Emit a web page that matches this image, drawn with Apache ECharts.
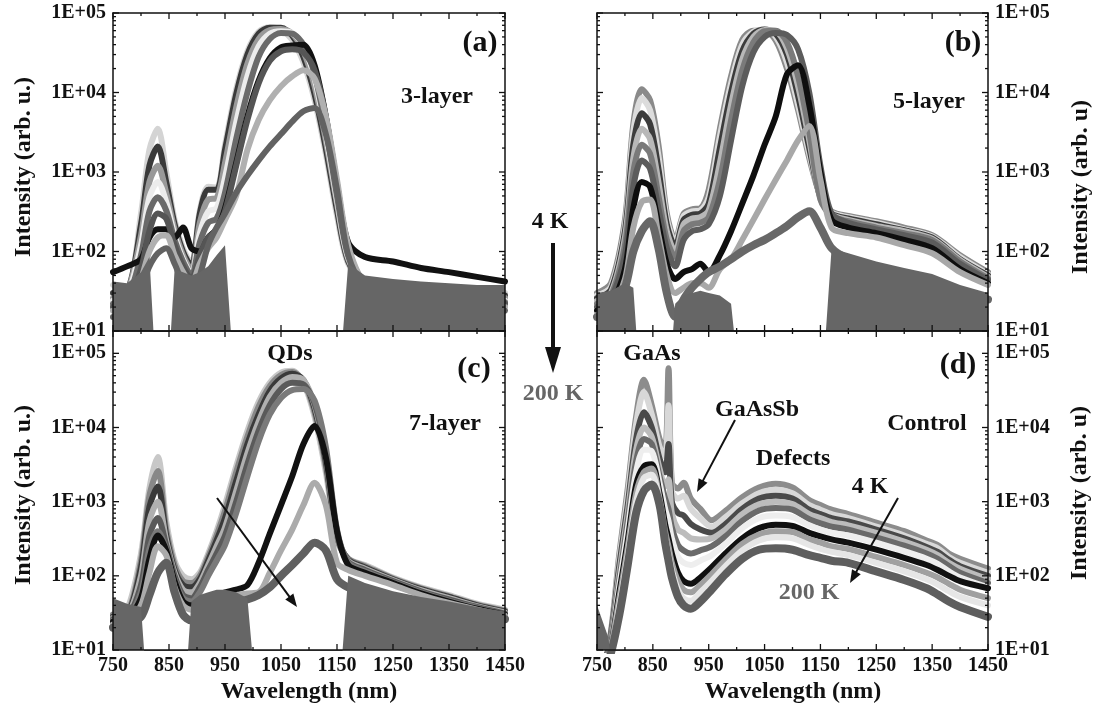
<!DOCTYPE html>
<html>
<head>
<meta charset="utf-8">
<script src="https://cdn.jsdelivr.net/npm/echarts@6/dist/echarts.min.js"></script>
<style>
  html, body { margin: 0; padding: 0; background: #ffffff; }
  #chart { width: 1097px; height: 719px; }
</style>
</head>
<body>
<div id="chart"></div>
<script>
// Wavelength grids (nm): QD samples and the control sample
const WL = [750, 775, 800, 815, 830, 845, 860, 875, 890, 905, 920, 935, 950, 970, 990, 1010, 1030, 1050, 1070, 1090, 1110, 1130, 1150, 1170, 1200, 1250, 1300, 1350, 1400, 1450];
const WL_CTRL = [750, 770, 790, 805, 820, 834, 848, 862, 872, 878, 884, 895, 905, 918, 935, 955, 980, 1010, 1040, 1070, 1100, 1130, 1150, 1170, 1200, 1250, 1300, 1340, 1360, 1380, 1400, 1450];

// Measurement temperatures, 4 K to 200 K
const TEMPS = ['4 K', '25 K', '50 K', '75 K', '100 K', '125 K', '150 K', '175 K', '200 K'];
const TEMPS_CTRL = ['4 K', '20 K', '40 K', '60 K', '80 K', '100 K', '120 K', '150 K', '175 K', '200 K'];

// Y tick labels (log axis)
const Y_TICK_LABELS = ['1E+01', '1E+02', '1E+03', '1E+04', '1E+05'];

// PL intensity (arb. u.), one row per temperature, on WL
const PL_3LAYER = [
  [38, 36, 300, 1900, 3500, 1000, 250, 110, 70, 330, 650, 640, 2200, 1.1e4, 3.3e4, 5.8e4, 6.6e4, 6.2e4, 4.6e4, 2.4e4, 8e3, 1.7e3, 280, 70, 42, 38, 35, 33, 30, 30],
  [30, 32, 220, 1200, 2100, 750, 220, 100, 65, 300, 600, 600, 1900, 9.5e3, 3e4, 5.5e4, 6.5e4, 6.5e4, 5.2e4, 2.8e4, 9.5e3, 2e3, 330, 75, 40, 35, 32, 30, 28, 28],
  [26, 30, 160, 750, 1200, 550, 190, 90, 58, 230, 450, 470, 1300, 6.5e3, 2.3e4, 4.7e4, 6.1e4, 6.3e4, 5.5e4, 3.3e4, 1.2e4, 2.5e3, 400, 80, 40, 34, 30, 28, 27, 26],
  [24, 28, 120, 480, 750, 420, 160, 80, 52, 170, 320, 350, 850, 4.2e3, 1.6e4, 3.8e4, 5.5e4, 5.9e4, 5.6e4, 3.8e4, 1.5e4, 3e3, 450, 85, 38, 32, 28, 26, 25, 24],
  [22, 25, 90, 320, 480, 330, 140, 75, 50, 130, 230, 260, 550, 2.6e3, 1e4, 2.8e4, 4.7e4, 5.6e4, 5.5e4, 4e4, 1.7e4, 3.5e3, 500, 90, 38, 30, 27, 25, 24, 23],
  [55, 65, 80, 150, 190, 190, 150, 200, 110, 100, 150, 190, 350, 1.3e3, 5e3, 1.4e4, 2.7e4, 3.7e4, 3.9e4, 4e4, 2.2e4, 5e3, 700, 130, 85, 75, 62, 55, 48, 42],
  [20, 22, 60, 180, 300, 260, 120, 65, 45, 90, 150, 180, 320, 1.2e3, 4.5e3, 1.3e4, 2.5e4, 3.3e4, 3.5e4, 3.2e4, 1.9e4, 5e3, 700, 110, 40, 30, 27, 25, 23, 22],
  [18, 20, 45, 100, 150, 160, 90, 55, 40, 70, 110, 150, 250, 500, 1.9e3, 4.5e3, 8e3, 1.2e4, 1.6e4, 1.9e4, 1.5e4, 5e3, 800, 120, 40, 30, 26, 24, 22, 20],
  [15, 16, 35, 65, 95, 110, 70, 40, 30, 50, 120, 200, 300, 550, 900, 1.4e3, 2.1e3, 3e3, 4.3e3, 5.8e3, 6.4e3, 3e3, 600, 90, 35, 28, 25, 22, 20, 18]
];
const PL_5LAYER = [
  [30, 40, 250, 4e3, 1.1e4, 8e3, 2.2e3, 300, 140, 300, 340, 350, 600, 3.5e3, 1.6e4, 4.6e4, 6e4, 6e4, 4.5e4, 2e4, 6e3, 1.5e3, 500, 320, 280, 240, 200, 160, 90, 55],
  [28, 36, 210, 3.2e3, 8.5e3, 6e3, 1.6e3, 260, 130, 280, 320, 330, 480, 2.8e3, 1.3e4, 4e4, 5.8e4, 6.2e4, 5e4, 2.4e4, 7e3, 1.7e3, 500, 310, 270, 230, 190, 155, 85, 52],
  [26, 33, 180, 2.2e3, 5.5e3, 4e3, 1.1e3, 220, 115, 250, 290, 300, 400, 2e3, 1e4, 3.3e4, 5.5e4, 6.2e4, 5.5e4, 3e4, 9e3, 2e3, 480, 300, 260, 220, 185, 150, 80, 50],
  [24, 30, 150, 1.5e3, 3.5e3, 2.6e3, 750, 180, 100, 220, 260, 270, 330, 1.3e3, 7e3, 2.6e4, 5e4, 6.1e4, 5.9e4, 3.6e4, 1.2e4, 2.5e3, 460, 290, 250, 210, 180, 145, 78, 48],
  [22, 28, 120, 1e3, 2.2e3, 1.7e3, 500, 140, 85, 180, 220, 230, 270, 800, 4.5e3, 1.9e4, 4.3e4, 5.9e4, 6e4, 4.3e4, 1.6e4, 3.2e3, 450, 280, 240, 200, 170, 140, 75, 46],
  [20, 26, 90, 650, 1.4e3, 1.1e3, 350, 110, 65, 140, 180, 190, 220, 500, 2.5e3, 1.2e4, 3.2e4, 5e4, 5.6e4, 5.3e4, 3.5e4, 1e4, 1.2e3, 300, 230, 190, 160, 130, 70, 44],
  [18, 22, 60, 350, 750, 650, 220, 70, 45, 55, 60, 70, 55, 90, 180, 400, 900, 2.2e3, 5e3, 1.7e4, 2.2e4, 7e3, 1e3, 250, 200, 170, 140, 110, 60, 40],
  [16, 20, 45, 200, 420, 450, 160, 50, 30, 35, 40, 40, 35, 60, 80, 140, 250, 450, 800, 1.4e3, 2.5e3, 3.8e3, 800, 200, 170, 150, 120, 95, 55, 38],
  [15, 18, 35, 100, 180, 240, 110, 30, 15, 25, 35, 45, 55, 65, 80, 100, 120, 140, 170, 210, 270, 320, 200, 110, 80, 60, 50, 40, 30, 25]
];
const PL_7LAYER = [
  [30, 35, 200, 1.5e3, 4e3, 550, 160, 100, 90, 110, 200, 400, 900, 3e3, 9e3, 2.2e4, 4e4, 5.5e4, 5.8e4, 4e4, 1.4e4, 2.5e3, 300, 170, 140, 95, 70, 55, 42, 35],
  [30, 32, 160, 1.2e3, 2.6e3, 420, 140, 85, 80, 100, 180, 350, 750, 2.5e3, 7.5e3, 1.9e4, 3.6e4, 5.1e4, 5.6e4, 4.2e4, 1.6e4, 3e3, 320, 170, 135, 92, 68, 53, 41, 34],
  [28, 30, 130, 850, 1.6e3, 350, 120, 75, 70, 90, 160, 300, 600, 1.9e3, 6e3, 1.5e4, 3.1e4, 4.6e4, 5.3e4, 4.4e4, 1.8e4, 3.5e3, 340, 165, 130, 90, 66, 52, 40, 33],
  [27, 29, 100, 550, 1e3, 300, 110, 65, 60, 80, 140, 250, 450, 1.4e3, 4.5e3, 1.2e4, 2.6e4, 4e4, 4.8e4, 4.4e4, 2e4, 4e3, 360, 160, 125, 88, 64, 50, 39, 32],
  [26, 28, 75, 350, 600, 260, 100, 55, 50, 70, 120, 200, 350, 1e3, 3.2e3, 9e3, 2e4, 3.3e4, 4e4, 3.8e4, 2.1e4, 4.5e3, 380, 155, 120, 85, 62, 48, 38, 31],
  [25, 27, 60, 230, 400, 230, 90, 50, 45, 60, 100, 160, 260, 700, 2.2e3, 6.5e3, 1.5e4, 2.5e4, 3.2e4, 3.3e4, 2.3e4, 5.5e3, 420, 150, 115, 82, 60, 46, 37, 30],
  [24, 26, 50, 170, 350, 220, 85, 45, 40, 45, 50, 55, 60, 65, 75, 150, 370, 900, 2.2e3, 6e3, 1.05e4, 4e3, 400, 140, 110, 80, 58, 45, 36, 30],
  [22, 24, 40, 110, 250, 190, 70, 40, 35, 38, 42, 46, 50, 55, 58, 60, 110, 220, 420, 900, 1.8e3, 900, 150, 120, 100, 75, 55, 43, 35, 29],
  [20, 22, 28, 55, 110, 150, 60, 30, 25, 28, 32, 36, 40, 45, 48, 55, 70, 100, 140, 200, 280, 220, 90, 70, 60, 50, 42, 36, 30, 26]
];
// Control sample, on WL_CTRL
const PL_CONTROL = [
  [5, 10, 200, 1.5e3, 1.4e4, 4.4e4, 2e4, 7e3, 5e3, 6.3e4, 1.8e3, 1.5e3, 1.8e3, 1.1e3, 800, 560, 750, 1150, 1550, 1750, 1550, 1050, 900, 780, 680, 520, 400, 300, 260, 200, 170, 125],
  [5, 10, 170, 1.2e3, 1.1e4, 3e4, 1.5e4, 5.5e3, 4e3, 2e4, 1.4e3, 1.1e3, 1.2e3, 800, 600, 460, 620, 950, 1300, 1450, 1300, 900, 780, 680, 600, 460, 350, 270, 235, 180, 150, 110],
  [5, 10, 140, 900, 7e3, 1.6e4, 1e4, 3.8e3, 2.5e3, 6e3, 1e3, 700, 650, 500, 420, 380, 500, 800, 1100, 1200, 1100, 780, 680, 600, 540, 420, 320, 245, 210, 165, 135, 100],
  [5, 9, 110, 700, 5e3, 1e4, 7.5e3, 2.8e3, 1.6e3, 2e3, 700, 420, 380, 320, 310, 320, 420, 680, 920, 1000, 930, 680, 600, 530, 480, 380, 290, 225, 190, 150, 125, 90],
  [5, 9, 90, 550, 3.5e3, 7e3, 6e3, 2.2e3, 1.1e3, 800, 450, 260, 220, 200, 220, 250, 340, 550, 760, 820, 780, 580, 510, 460, 420, 330, 255, 200, 170, 135, 110, 80],
  [5, 8, 75, 420, 2.5e3, 5e3, 4.8e3, 1.8e3, 800, 550, 320, 180, 150, 140, 160, 190, 270, 440, 600, 650, 620, 480, 420, 380, 350, 280, 215, 170, 145, 115, 95, 70],
  [5, 8, 60, 300, 1.7e3, 3e3, 3.2e3, 1.3e3, 500, 320, 200, 110, 85, 78, 95, 130, 200, 320, 440, 490, 470, 380, 340, 310, 280, 225, 175, 140, 120, 100, 85, 68],
  [5, 8, 50, 240, 1.3e3, 2.5e3, 2.8e3, 1.1e3, 400, 250, 150, 85, 65, 60, 75, 105, 165, 270, 360, 400, 390, 310, 280, 250, 230, 180, 140, 110, 95, 78, 65, 50],
  [5, 7, 40, 190, 1e3, 2.1e3, 2.3e3, 1e3, 330, 200, 120, 65, 50, 46, 60, 85, 135, 220, 300, 330, 320, 260, 230, 210, 190, 150, 115, 90, 76, 62, 52, 40],
  [5, 7, 30, 140, 700, 1.4e3, 1.7e3, 900, 280, 160, 95, 52, 40, 36, 45, 65, 105, 170, 225, 235, 225, 190, 175, 160, 150, 115, 88, 68, 56, 45, 38, 28]
];

// Upper edge of the detector noise floor (values below 10 fall off the axis)
const NOISE_3LAYER = [42, 40, 55, 85, 1, 1, 60, 55, 50, 55, 65, 90, 120, 1, 1, 1, 1, 1, 1, 1, 1, 1, 1, 70, 50, 45, 42, 40, 38, 38];
const NOISE_5LAYER = [30, 32, 40, 35, 1, 1, 1, 1, 22, 28, 30, 32, 30, 28, 22, 1, 1, 1, 1, 1, 1, 1, 1, 110, 95, 75, 62, 52, 38, 30];
const NOISE_7LAYER = [50, 42, 38, 1, 1, 1, 1, 1, 45, 55, 60, 65, 65, 60, 50, 1, 1, 1, 1, 1, 1, 1, 1, 100, 80, 62, 52, 45, 38, 33];
const NOISE_CONTROL = [40, 15, 1, 1, 1, 1, 1, 1, 1, 1, 1, 1, 1, 1, 1, 1, 1, 1, 1, 1, 1, 1, 1, 1, 1, 1, 1, 1, 1, 1, 1, 1];

// Line colours per temperature (grayscale, as plotted)
const COL_3LAYER = ['#d4d4d4', '#3a3a3a', '#999999', '#ececec', '#6a6a6a', '#111111', '#555555', '#b0b0b0', '#626262'];
const COL_5LAYER = ['#8a8a8a', '#dcdcdc', '#3c3c3c', '#b8b8b8', '#7a7a7a', '#5c5c5c', '#0e0e0e', '#a8a8a8', '#686868'];
const COL_7LAYER = ['#c8c8c8', '#888888', '#3a3a3a', '#b0b0b0', '#5a5a5a', '#7a7a7a', '#111111', '#ababab', '#606060'];
const COL_CONTROL = ['#8c8c8c', '#d8d8d8', '#4a4a4a', '#bcbcbc', '#6a6a6a', '#eeeeee', '#101010', '#a0a0a0', '#e6e6e6', '#5e5e5e'];

const FONT = '"Liberation Serif", "Times New Roman", serif';
const INK = '#111111';

const panels = [
  { rows: PL_3LAYER, noise: NOISE_3LAYER, xs: WL, names: TEMPS, colors: COL_3LAYER, grid: { left: 113, top: 13, width: 392, height: 318 }, yMax: 1e5, side: 'left', showX: false },
  { rows: PL_5LAYER, noise: NOISE_5LAYER, xs: WL, names: TEMPS, colors: COL_5LAYER, grid: { left: 597, top: 13, width: 391, height: 318 }, yMax: 1e5, side: 'right', showX: false },
  { rows: PL_7LAYER, noise: NOISE_7LAYER, xs: WL, names: TEMPS, colors: COL_7LAYER, grid: { left: 113, top: 331, width: 392, height: 319 }, yMax: 2e5, side: 'left', showX: true },
  { rows: PL_CONTROL, noise: NOISE_CONTROL, xs: WL_CTRL, names: TEMPS_CTRL, colors: COL_CONTROL, grid: { left: 597, top: 331, width: 391, height: 319 }, yMax: 2e5, side: 'right', showX: true }
];

const axisLineStyle = { show: true, onZero: false, lineStyle: { color: INK, width: 1.5 } };
const labelFont = { fontFamily: FONT, fontWeight: 'bold', fontSize: 20, color: INK };

function xLabel(v) {
  return (v - 750) % 100 === 0 ? String(v) : '';
}
function yLabel(v) {
  const e = Math.log10(v);
  const k = Math.round(e);
  if (Math.abs(e - k) > 1e-6 || k < 1 || k > 5) return '';
  return Y_TICK_LABELS[k - 1];
}

const grids = [], xAxes = [], yAxes = [], series = [];

panels.forEach((p, g) => {
  grids.push(Object.assign({ containLabel: false }, p.grid));
  const xBase = { gridIndex: g, type: 'value', min: 750, max: 1450, interval: 50, axisLine: axisLineStyle, axisTick: { show: false }, splitLine: { show: false }, z: 10 };
  xAxes.push(Object.assign({}, xBase, { position: 'bottom', axisLabel: Object.assign({ show: p.showX, formatter: xLabel, margin: 6 }, labelFont) }));
  xAxes.push(Object.assign({}, xBase, { position: 'top', axisLabel: { show: false } }));
  const yBase = { gridIndex: g, type: 'log', logBase: 10, min: 10, max: p.yMax, axisLine: axisLineStyle, axisTick: { show: false }, splitLine: { show: false }, minorSplitLine: { show: false }, z: 10 };
  yAxes.push(Object.assign({}, yBase, { position: p.side, axisLabel: Object.assign({ formatter: yLabel, margin: 7 }, labelFont) }));
  yAxes.push(Object.assign({}, yBase, { position: p.side === 'left' ? 'right' : 'left', axisLabel: { show: false } }));

  // one spectrum per temperature
  p.rows.forEach((row, r) => {
    const last = r === p.rows.length - 1;
    series.push({
      name: p.names[r], type: 'line', xAxisIndex: 2 * g, yAxisIndex: 2 * g, silent: true, z: 3,
      data: p.xs.map((x, i) => [x, row[i]]),
      showSymbol: false, symbol: 'none', smooth: 0.3,
      lineStyle: { color: p.colors[r], width: last && g > 0 ? 8 : 6, cap: 'round', join: 'round' }
    });
  });
  // noise floor, drawn over the weak tails of the spectra
  series.push({
    type: 'line', xAxisIndex: 2 * g, yAxisIndex: 2 * g, silent: true, z: 4,
    data: p.xs.map((x, i) => [x, p.noise[i]]),
    showSymbol: false, symbol: 'none', smooth: false,
    lineStyle: { opacity: 0 },
    areaStyle: { color: '#666666', opacity: 1, origin: 'start' }
  });
  // frame ticks: codes 0 bottom, 1 top, 2 left, 3 right
  const ticks = [];
  for (let v = 750; v <= 1450; v += 50) {
    const len = (v - 750) % 100 === 0 ? 6 : 3;
    ticks.push([0, v, len], [1, v, len]);
  }
  for (let e = 1; e <= 5; e++) {
    for (let m = 1; m <= 9; m++) {
      const v = m * Math.pow(10, e);
      if (v > 1e5) break;
      const len = m === 1 ? 6 : 3;
      ticks.push([2, v, len], [3, v, len]);
    }
  }
  series.push({
    type: 'custom', xAxisIndex: 2 * g, yAxisIndex: 2 * g, silent: true, z: 12, clip: false,
    dimensions: ['side', 'value', 'len'],
    encode: { x: 1, y: 1 },
    data: ticks,
    renderItem: function (params, api) {
      const side = api.value(0), v = api.value(1), len = api.value(2);
      const cs = params.coordSys;
      let x1, y1, x2, y2;
      if (side < 2) {
        const px = api.coord([v, 100])[0];
        x1 = x2 = px;
        if (side === 0) { y1 = cs.y + cs.height; y2 = y1 - len; } else { y1 = cs.y; y2 = y1 + len; }
      } else {
        const py = api.coord([1000, v])[1];
        y1 = y2 = py;
        if (side === 2) { x1 = cs.x; x2 = x1 + len; } else { x1 = cs.x + cs.width; x2 = x1 - len; }
      }
      return { type: 'line', shape: { x1, y1, x2, y2 }, style: { stroke: INK, lineWidth: 1.3 } };
    }
  });
});

// annotations
function text(str, x, y, size, color, rotation) {
  return {
    type: 'text', x: x, y: y, rotation: rotation || 0, z: 100,
    style: { text: str, font: 'bold ' + size + 'px ' + FONT, fill: color || INK, align: 'center', verticalAlign: 'middle' }
  };
}
function arrow(x1, y1, x2, y2, width, headLen, headHalf) {
  const dx = x2 - x1, dy = y2 - y1, L = Math.hypot(dx, dy);
  const ux = dx / L, uy = dy / L, nx = -uy, ny = ux;
  const bx = x2 - ux * headLen, by = y2 - uy * headLen;
  return [
    { type: 'line', z: 100, shape: { x1: x1, y1: y1, x2: bx + ux, y2: by + uy }, style: { stroke: INK, lineWidth: width } },
    { type: 'polygon', z: 100, shape: { points: [[x2, y2], [bx + nx * headHalf, by + ny * headHalf], [bx - nx * headHalf, by - ny * headHalf]] }, style: { fill: INK } }
  ];
}

const GRAY = '#666666';
const graphic = [
  text('(a)', 480, 43, 30), text('3-layer', 437, 97, 24),
  text('(b)', 963, 43, 30), text('5-layer', 929, 102, 24),
  text('QDs', 290, 354, 24), text('(c)', 474, 369, 30), text('7-layer', 445, 424, 24),
  text('(d)', 958, 365, 30), text('GaAs', 652, 354, 24), text('GaAsSb', 757, 410, 24),
  text('Control', 927, 424, 24), text('Defects', 793, 459, 24),
  text('4 K', 870, 487, 24), text('200 K', 809, 593, 24, GRAY),
  text('4 K', 550, 222, 24), text('200 K', 553, 394, 24, GRAY),
  text('Intensity (arb. u.)', 24, 167, 24, INK, Math.PI / 2),
  text('Intensity (arb. u.)', 24, 495, 24, INK, Math.PI / 2),
  text('Intensity (arb. u)', 1081, 187, 24, INK, Math.PI / 2),
  text('Intensity (arb. u)', 1080, 493, 24, INK, Math.PI / 2),
  text('Wavelength (nm)', 309, 692, 24),
  text('Wavelength (nm)', 793, 692, 24)
].concat(
  arrow(553, 243, 553, 373, 4, 26, 8),
  arrow(217, 498, 297, 607, 2, 13, 5),
  arrow(735, 420, 697, 492, 2, 13, 5),
  arrow(898, 498, 850, 583, 2, 13, 5)
);

const chart = echarts.init(document.getElementById('chart'), null, { renderer: 'canvas' });
chart.setOption({
  animation: false,
  backgroundColor: '#ffffff',
  grid: grids,
  xAxis: xAxes,
  yAxis: yAxes,
  series: series,
  graphic: graphic
});
</script>
</body>
</html>
